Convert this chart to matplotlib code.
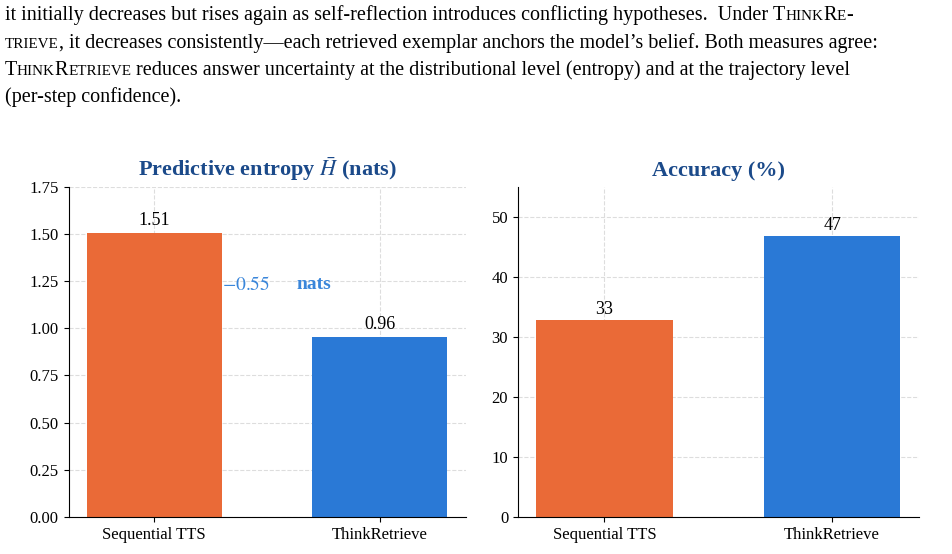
import matplotlib.pyplot as plt

plt.rcParams["font.family"] = ["Liberation Serif", "DejaVu Serif"]
plt.rcParams["mathtext.fontset"] = "stix"

# ------------------------------------------------
# DATA
# ------------------------------------------------

methods       = ["Sequential TTS", "ThinkRetrieve"]
entropy       = [1.505, 0.955]
entropy_lbls  = ["1.51", "0.96"]
accuracy      = [32.8, 46.8]
accuracy_lbls = ["33", "47"]
delta_label   = "0.55"

COLORS    = ["#EA6A37", "#2A79D6"]
TITLE_COL = "#1B4A8A"
NOTE_COL  = "#3A86DA"

paragraph = [
    [("it initially decreases but rises again as self-reflection introduces conflicting hypotheses.  Under ", False),
     ("ThinkRe-", True)],
    [("trieve", True), (", it decreases consistently\u2014each retrieved exemplar anchors the model\u2019s belief. Both measures agree:", False)],
    [("ThinkRetrieve", True), (" reduces answer uncertainty at the distributional level (entropy) and at the trajectory level", False)],
    [("(per-step confidence).", False)],
]

# ------------------------------------------------
# FIGURE
# ------------------------------------------------

fig = plt.figure(figsize=(9.52, 5.54), dpi=100)
renderer = fig.canvas.get_renderer()

FS = 14.5


def put(x, y, s, size):
    t = fig.text(x, y, s, fontsize=size, va="baseline", ha="left")
    bb = t.get_window_extent(renderer)
    return x + bb.width / fig.bbox.width


def small_caps(x, y, word):
    run = ""
    run_upper = None
    for ch in word:
        up = not ch.islower()
        if run_upper is None or up == run_upper:
            run += ch
        else:
            x = put(x, y, run if run_upper else run.upper(), FS if run_upper else FS * 0.75)
            run = ch
        run_upper = up
    if run:
        x = put(x, y, run if run_upper else run.upper(), FS if run_upper else FS * 0.75)
    return x


line_y = [0.963, 0.914, 0.865, 0.816]
for segs, y in zip(paragraph, line_y):
    x = 0.005
    for s, sc in segs:
        x = small_caps(x, y, s) if sc else put(x, y, s, FS)

ax1 = fig.add_axes([0.072, 0.067, 0.417, 0.596])
ax2 = fig.add_axes([0.544, 0.067, 0.421, 0.596])

for ax in (ax1, ax2):
    ax.spines["top"].set_visible(False)
    ax.spines["right"].set_visible(False)
    ax.grid(True, linestyle="--", color="#dddddd", linewidth=0.8)
    ax.set_axisbelow(True)
    ax.tick_params(labelsize=12)

# entropy panel
bars = ax1.bar(methods, entropy, width=0.6, color=COLORS)
for b, lbl in zip(bars, entropy_lbls):
    ax1.text(b.get_x() + b.get_width() / 2, b.get_height() + 0.02, lbl,
             ha="center", va="bottom", fontsize=13)
ax1.set_ylim(0, 1.75)
ax1.set_yticks([0, 0.25, 0.5, 0.75, 1.0, 1.25, 1.5, 1.75])
ax1.set_title(r"Predictive entropy $\bar{H}$ (nats)", fontsize=16,
              fontweight="bold", color=TITLE_COL, pad=8)
ax1.text(0.3, (entropy[0] + entropy[1]) / 2 + 0.0, r"$-$" + f"${delta_label}$",
         fontsize=14, color=NOTE_COL, ha="left", va="center")
ax1.text(0.63, (entropy[0] + entropy[1]) / 2, "nats", fontsize=14,
         fontweight="bold", color=NOTE_COL, ha="left", va="center")

# accuracy panel
bars = ax2.bar(methods, accuracy, width=0.6, color=COLORS)
for b, lbl in zip(bars, accuracy_lbls):
    ax2.text(b.get_x() + b.get_width() / 2, b.get_height() + 0.4, lbl,
             ha="center", va="bottom", fontsize=13)
ax2.set_ylim(0, 55)
ax2.set_yticks([0, 10, 20, 30, 40, 50])
ax2.set_title("Accuracy (%)", fontsize=16, fontweight="bold",
              color=TITLE_COL, pad=8)

fig.savefig("out.png", dpi=100)
